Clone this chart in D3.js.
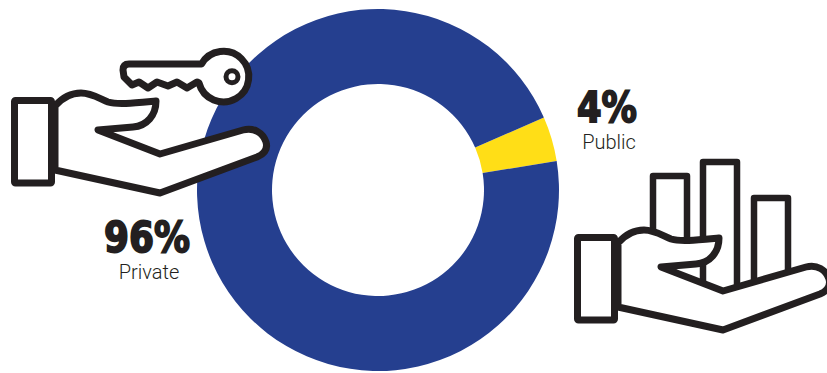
<!DOCTYPE html>
<html>
<head>
<meta charset="utf-8">
<script src="https://cdn.jsdelivr.net/npm/d3@7"></script>
<style>
  html, body { margin: 0; padding: 0; background: #fff; }
  svg { display: block; }
  .pct { font-family: "DejaVu Sans", sans-serif; font-weight: 700; fill: #231f20; stroke: #231f20; stroke-width: 1.9px; text-anchor: middle; }
  .cat { font-family: Roboto, sans-serif; font-weight: 300; fill: #231f20; text-anchor: middle; }
  .icon { fill: #fff; stroke: #231f20; stroke-width: 7; stroke-linejoin: round; stroke-linecap: round; }
  .bar { stroke-linecap: butt; stroke-width: 6.5; }
</style>
</head>
<body>
<svg id="chart" width="827" height="373"></svg>
<script>
// Ownership split shown by the ring
const categories = ["Public", "Private"];
const shares = [4, 96];
const percentLabels = ["4%", "96%"];
const sliceColours = ["#ffde17", "#253f8f"];

const centre = [378, 190];
const outerRadius = 181, innerRadius = 106;
const startDegrees = 66.4;

const svg = d3.select("#chart");

const pie = d3.pie()
  .sort(null)
  .startAngle(startDegrees * Math.PI / 180)
  .endAngle((startDegrees + 360) * Math.PI / 180);
const arc = d3.arc().innerRadius(innerRadius).outerRadius(outerRadius);

svg.append("g")
  .attr("transform", `translate(${centre})`)
  .selectAll("path")
  .data(pie(shares))
  .join("path")
  .attr("d", arc)
  .attr("fill", (d, i) => sliceColours[i]);

// Open hand pictogram, shared by both sides of the ring
const handOutline = "M55,106 C62,98 70,93 81,93 C92,93 100,99 108,102 C118,105 135,103 156,101 C156,115 147,126 133,127 L98,130 L160,154 L243,130 C254,127 263,133 266,142 C268,149 264,154 257,157 L160,193 L55,170 Z";
const cuff = { x: 14.5, y: 100.5, width: 37, height: 82.5 };

function drawHand(group) {
  group.append("path").attr("class", "icon").attr("d", handOutline);
  group.append("rect").attr("class", "icon")
    .attr("x", cuff.x).attr("y", cuff.y)
    .attr("width", cuff.width).attr("height", cuff.height)
    .attr("rx", 1);
}

// Key resting above the left hand; the bow's hole sits off-centre towards the tip
const keyGroup = svg.append("g");
keyGroup.append("path").attr("class", "icon")
  .attr("d", "M201.5,64 L129,64 C125,64 123,66 123,70 L124,77 L132,85 L139,82 L148,88 L157,82 L168,86 L177,82 L187,88 L197,82 L199,83 A25.3,25.3 0 1 0 201.5,64 Z");
keyGroup.append("circle").attr("class", "icon")
  .attr("cx", 232).attr("cy", 76.7).attr("r", 6)
  .style("stroke-width", 5);

drawHand(svg.append("g"));

// Bars rising behind the right hand
const rightGroup = svg.append("g").attr("transform", "translate(563,137)");
const barFrames = [
  { left: 90, right: 124, top: 39, bottom: 125 },
  { left: 140, right: 174, top: 25, bottom: 150 },
  { left: 191, right: 225, top: 61, bottom: 150 }
];
rightGroup.selectAll("path.bar")
  .data(barFrames)
  .join("path")
  .attr("class", "icon bar")
  .attr("d", d => `M${d.left},${d.bottom} L${d.left},${d.top} L${d.right},${d.top} L${d.right},${d.bottom}`);
drawHand(rightGroup);

// Value and category captions
const captions = [
  { i: 0, xPct: 607, xCat: 609, yPct: 122, yCat: 149, pctWidth: 60 },
  { i: 1, xPct: 147, xCat: 149, yPct: 252, yCat: 279, pctWidth: 86 }
];
captions.forEach(c => {
  svg.append("text").attr("class", "pct")
    .attr("x", c.xPct).attr("y", c.yPct)
    .attr("textLength", c.pctWidth)
    .attr("lengthAdjust", "spacingAndGlyphs")
    .style("font-size", "42px")
    .text(percentLabels[c.i]);
  svg.append("text").attr("class", "cat")
    .attr("x", c.xCat).attr("y", c.yCat)
    .style("font-size", "20px")
    .text(categories[c.i]);
});
</script>
</body>
</html>
